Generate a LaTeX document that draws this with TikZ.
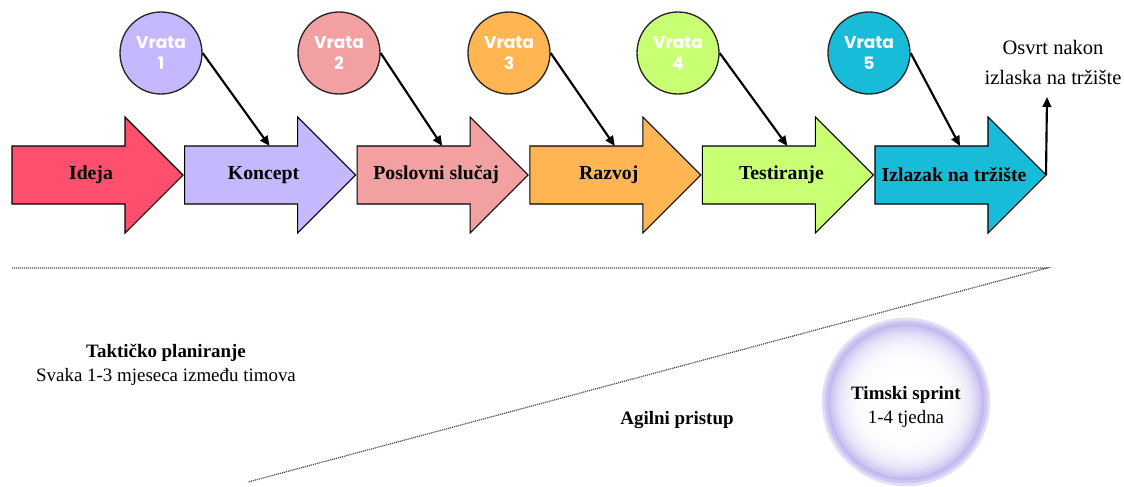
\documentclass[tikz,border=0pt]{standalone}
\usepackage{fontspec}
\setmainfont{Liberation Serif}
\newfontfamily\gatefont{Poppins}
\usetikzlibrary{arrows.meta, positioning, shapes.geometric}

\definecolor{idejared}{HTML}{FF4F6E}
\definecolor{konceptlav}{HTML}{C6B8FF}
\definecolor{poslovnipink}{HTML}{F2A0A2}
\definecolor{razvojorange}{HTML}{FFB652}
\definecolor{testgreen}{HTML}{C8FF73}
\definecolor{izlazakcyan}{HTML}{18BCD8}
\definecolor{sprintlav}{HTML}{B0A0EA}

\begin{document}
\begin{tikzpicture}[x=0.75pt, y=-0.75pt,
    stepbox/.style={draw=black, line width=0.8pt},
    steplabel/.style={font=\fontsize{14.8}{17}\selectfont\bfseries},
    gate/.style={circle, draw=black!85, line width=1pt, minimum size=61.5pt, inner sep=0pt,
        text=white, align=center, font=\gatefont\bfseries\fontsize{12.8}{15.7}\selectfont},
    gatearrow/.style={-{Triangle[length=7.5pt,width=6.5pt]}, line width=1.6pt},
    plain/.style={font=\fontsize{14.2}{18}\selectfont, align=center},
    dotline/.style={black!75, line width=0.9pt, dash pattern=on 0.8pt off 0.7pt}]

    \useasboundingbox (0,0) rectangle (1124,486);

    % process arrows
    \foreach \i/\col/\name/\lab in {0/idejared/ideja/Ideja, 1/konceptlav/koncept/Koncept,
        2/poslovnipink/poslovni/Poslovni slučaj, 3/razvojorange/razvoj/Razvoj,
        4/testgreen/testiranje/Testiranje, 5/izlazakcyan/izlazak/Izlazak na tržište}
    {
        \pgfmathsetmacro{\L}{12+172.6*\i}
        \draw[stepbox, fill=\col] (\L,146) -- ++(113,0) -- ++(0,-29) -- ++(58,58)
            -- ++(-58,58) -- ++(0,-29) -- ++(-113,0) -- cycle;
        \node[steplabel] (\name) at (\L+79,175) {\lab};
        \coordinate (\name-top) at (\L+85,146);
        \coordinate (\name-tip) at (\L+171,175);
    }

    % gates
    \node[gate, fill=konceptlav] (vrata1) at (161,53) {Vrata\\1};
    \node[gate, fill=poslovnipink] (vrata2) at (339,53) {Vrata\\2};
    \node[gate, fill=razvojorange] (vrata3) at (509,53) {Vrata\\3};
    \node[gate, fill=testgreen] (vrata4) at (678,53) {Vrata\\4};
    \node[gate, fill=izlazakcyan] (vrata5) at (869,53) {Vrata\\5};

    \draw[gatearrow] (vrata1.east) -- (koncept-top);
    \draw[gatearrow] (vrata2.east) -- (poslovni-top);
    \draw[gatearrow] (vrata3.east) -- (razvoj-top);
    \draw[gatearrow] (vrata4.east) -- (testiranje-top);
    \draw[gatearrow] (vrata5.east) -- (izlazak-top);

    \node[font=\fontsize{15.4}{22.5}\selectfont, align=center] (osvrt) at (1053,62)
        {Osvrt nakon\\izlaska na tržište};
    \coordinate (osvrt-end) at (1047,97);
    \draw[gatearrow] (izlazak-tip) -- (osvrt-end);

    % planning wedge
    \coordinate (dot-left) at (12,268);
    \coordinate (dot-apex) at (1047,268);
    \coordinate (dot-low) at (248,482);
    \draw[dotline] (dot-left) -- (dot-apex) -- (dot-low);

    \node[plain] (taktika) at (166,365) {\textbf{Taktičko planiranje}\\Svaka 1-3 mjeseca između timova};
    \node[plain, font=\fontsize{14.2}{18}\selectfont\bfseries] (agilni) at (677,420) {Agilni pristup};

    % sprint bubble, soft rings
    \node[circle, minimum size=121.5pt, inner sep=0pt] (sprint) at (906,402) {};
    \foreach \k in {0,...,29}{
        \pgfmathsetmacro{\t}{1.04-\k/28}
        \pgfmathsetmacro{\mix}{\k<2 ? 35+25*\k : 90*(min(\t,1))^6}
        \fill[sprintlav!\mix!white] (sprint.center) circle[radius=\t*60.75pt];
    }
    \node[plain] (sprint-text) at (906,407) {\textbf{Timski sprint}\\1-4 tjedna};

\end{tikzpicture}
\end{document}
